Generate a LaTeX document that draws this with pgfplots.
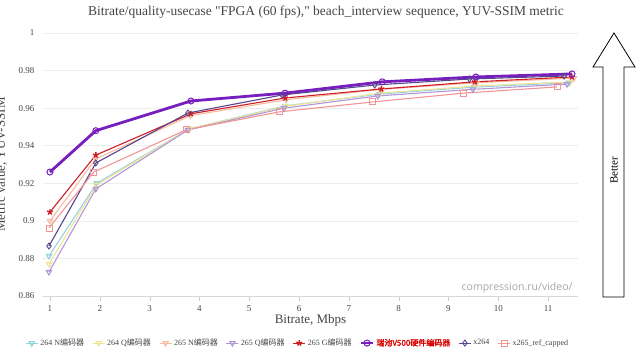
\documentclass[border=0pt]{standalone}
\usepackage{pgfplots}
\pgfplotsset{compat=1.18}
\usepackage{fontspec}
\setmainfont{Liberation Serif}
\setsansfont{Open Sans}
\newfontfamily\cjk[AutoFakeBold=2]{Noto Sans CJK SC}
\definecolor{cA}{RGB}{150,210,222}
\definecolor{cB}{RGB}{238,228,150}
\definecolor{cC}{RGB}{245,188,160}
\definecolor{cD}{RGB}{178,150,215}
\definecolor{cE}{RGB}{205,30,40}
\definecolor{cF}{RGB}{118,30,190}
\definecolor{cG}{RGB}{88,70,140}
\definecolor{cH}{RGB}{240,150,150}
\definecolor{txt}{RGB}{68,68,68}
\begin{document}
\begin{tikzpicture}[x=1pt,y=1pt]
\clip (0,0) rectangle (641,361);
\begin{axis}[
  at={(43pt,65pt)}, anchor=south west,
  scale only axis, width=535pt, height=263pt,
  xmin=0.86, xmax=11.6, ymin=0.86, ymax=1,
  axis x line*=bottom, axis y line*=left,
  x axis line style={-, draw=gray!30},
  y axis line style={draw=none},
  xtick={1,...,11}, ytick={0.86,0.88,...,1.001},
  tick align=outside, major tick length=5pt,
  xtick style={draw=gray!40}, ytick style={draw=none},
  ymajorgrids, grid style={gray!14, line width=0.6pt},
  /pgf/number format/assume math mode=true,
  ticklabel style={font=\fontsize{9}{9}\selectfont, text=txt},
  yticklabel={\pgfmathprintnumber[fixed,precision=2]{\tick}},
  xticklabel style={yshift=-1pt},
  xlabel={Bitrate, Mbps},
  xlabel style={font=\fontsize{13}{13}\selectfont, text=txt, yshift=4pt},
  ylabel={Metric value, YUV-SSIM},
  ylabel style={font=\fontsize{13}{13}\selectfont, text=txt, at={(axis description cs:-0.078,0.5)}, anchor=center},
  legend columns=8,
  legend style={at={(0.476,-0.179)}, anchor=center, draw=none, fill=none,
    font=\fontsize{8}{9}\selectfont, text=txt,
    /tikz/every even column/.append style={column sep=6pt}},
  legend image code/.code={\draw[mark repeat=2,mark phase=2] plot coordinates {(0pt,0pt)(6pt,0pt)(12pt,0pt)};},
  every axis plot/.append style={line width=1.1pt, mark size=3pt, mark options={solid, fill=white, line width=0.9pt}},
  clip=false,
]
\addplot[cA, mark=triangle, mark options={rotate=180}] coordinates {(0.98,0.8813) (1.94,0.920) (3.80,0.949) (5.72,0.9612) (7.62,0.9675) (9.52,0.9712) (11.42,0.9735)};
\addlegendentry{264 N{\cjk 编码器}}
\addplot[cB, mark=triangle, mark options={rotate=180}] coordinates {(0.98,0.877) (1.93,0.919) (3.80,0.949) (5.74,0.961) (7.64,0.968) (9.54,0.9718) (11.45,0.974)};
\addlegendentry{264 Q{\cjk 编码器}}
\addplot[cC, mark=triangle, mark options={rotate=180}] coordinates {(1.00,0.900) (1.92,0.933) (3.82,0.956) (5.74,0.9645) (7.66,0.970) (9.56,0.9735) (11.52,0.976)};
\addlegendentry{265 N{\cjk 编码器}}
\addplot[cD, mark=triangle, mark options={rotate=180}] coordinates {(0.98,0.8728) (1.92,0.917) (3.77,0.9484) (5.70,0.960) (7.58,0.9665) (9.49,0.970) (11.38,0.9728)};
\addlegendentry{265 Q{\cjk 编码器}}
\addplot[cE, mark=star, mark options={fill=cE, line width=1.4pt}] coordinates {(1.00,0.9047) (1.92,0.935) (3.83,0.957) (5.72,0.9654) (7.65,0.9702) (9.53,0.974) (11.48,0.9766)};
\addlegendentry{265 G{\cjk 编码器}}
\addplot[cF, line width=2.8pt, mark=o, mark options={line width=1pt}] coordinates {(1.00,0.926) (1.92,0.948) (3.83,0.9638) (5.72,0.968) (7.67,0.974) (9.55,0.9766) (11.48,0.9782)};
\addlegendentry{\textcolor{red!85!black}{\cjk\bfseries 瑞池V500硬件编码器}}
\addplot[cG, mark=diamond] coordinates {(0.98,0.8866) (1.92,0.9308) (3.77,0.9574) (5.66,0.967) (7.52,0.9723) (9.42,0.9755) (11.32,0.9771)};
\addlegendentry{x264}
\addplot[cH, mark=square] coordinates {(0.98,0.8962) (1.88,0.926) (3.73,0.9484) (5.60,0.958) (7.48,0.9633) (9.31,0.968) (11.18,0.9713)};
\addlegendentry{x265\_ref\_capped}
\end{axis}
% title
\node[font=\fontsize{13.5}{14}\selectfont, text=txt] at (326,349) {Bitrate/quality-usecase \textquotedbl FPGA (60 fps),\textquotedbl{} beach\_interview sequence, YUV-SSIM metric};
% watermark
\node[font=\sffamily\fontsize{10.5}{11}\selectfont, text=gray!70, anchor=east] at (576,73) {compression.ru/video/};
% better arrow
\draw[black, line width=0.8pt, line join=miter] (603,64) -- (603,294) -- (593,294) -- (614,328) -- (635,294) -- (624,294) -- (624,64) -- cycle;
\node[rotate=90, font=\fontsize{11}{11}\selectfont] at (614,191) {Better};
\end{tikzpicture}
\end{document}
